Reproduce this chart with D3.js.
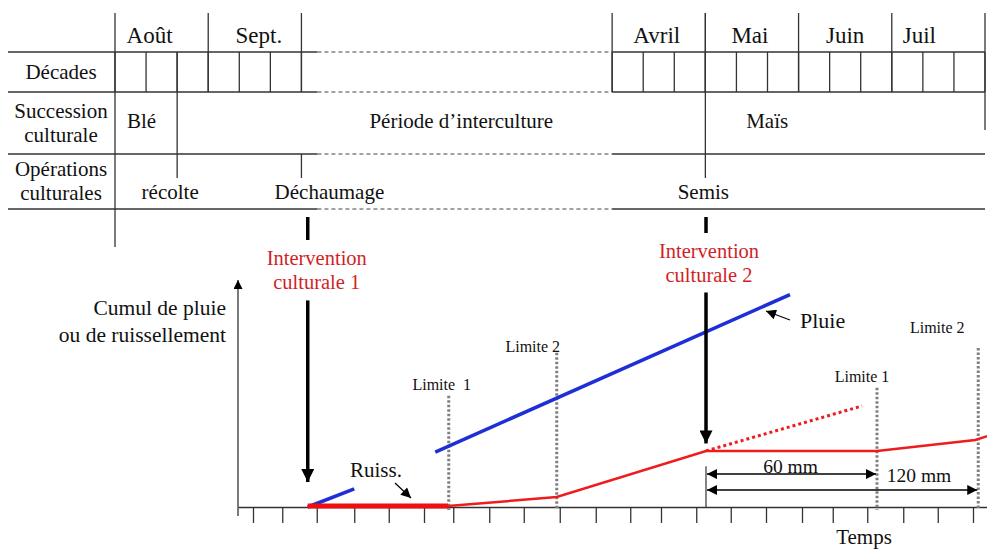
<!DOCTYPE html>
<meta charset="utf-8">
<style>
body, html {
  padding: 0;
  margin: 0;
  background: #fff;
}
svg text {
  font-family: "Liberation Serif", "Times New Roman", serif;
  fill: #111;
}
.grid {
  stroke: #333;
  stroke-width: 1.3px;
  fill: none;
}
.dash {
  stroke: #444;
  stroke-width: 1px;
  stroke-dasharray: 4 3;
}
.limite {
  stroke: #808080;
  stroke-width: 3px;
  stroke-dasharray: 2.5 2;
}
</style>
<body>
<script src="https://d3js.org/d3.v7.min.js"></script>
<script>

var width = 987,
    height = 549

// ---- table (calendar) data, in decades from 1st Aug ----
var months = [
  {label: "Août",  start: 0,  end: 3},
  {label: "Sept.", start: 3,  end: 6},
  {label: "Avril", start: 16, end: 19},
  {label: "Mai",   start: 19, end: 22},
  {label: "Juin",  start: 22, end: 25},
  {label: "Juil",  start: 25, end: 28}
]
var succession = [
  {label: "Blé", start: 0, end: 2},
  {label: "Période d\u2019interculture", start: 2, end: 19},
  {label: "Maïs", start: 19, end: 28}
]
var operations = [
  {label: "récolte", at: 2},
  {label: "Déchaumage", at: 6},
  {label: "Semis", at: 19}
]
var rowLabels = [
  {lines: ["Décades"]},
  {lines: ["Succession", "culturale"]},
  {lines: ["Opérations", "culturales"]}
]

// ---- chart data (time units 0..100, cumulative 0..100) ----
var pluie1 = [[9.3, 0], [15.5, 8]]
var pluie2 = [[26.3, 24.2], [73.6, 93.6]]
var ruissThick = [[9.3, 0.4], [28, 0.4]]
var ruiss = [[28, 0.4], [42.5, 4.4], [62.4, 24.7], [85.2, 24.7], [98.3, 29.5], [100, 31.3]]
var ruissSansInterv = [[62.4, 24.7], [83.2, 44.5]]
var limites = [
  {label: "Limite\u00a0\u00a01", t: 28.1, top: 49},
  {label: "Limite 2",  t: 42.5, top: 68},
  {label: "Limite 1",  t: 85.2, top: 52.5},
  {label: "Limite 2",  t: 98.7, top: 70}
]
var interventions = [
  {lines: ["Intervention", "culturale 1"], t: 9.3, from: 91, to: 11},
  {lines: ["Intervention", "culturale 2"], t: 62.4, from: 94.5, to: 28}
]
var timeTicks = [2, 5.9, 10.5, 15.5, 20.1, 24.8, 28.7, 33.5, 38.1, 42.9, 47.7, 52.3,
                 56.4, 61.1, 65.7, 70.4, 75.2, 79.3, 83.9, 88.7, 93.3, 98]
var spans = [
  {label: "60 mm",  from: 62.4, to: 85.2, y: 14.5},
  {label: "120 mm", from: 62.4, to: 98.7, y: 7.5}
]

var svg = d3.select("body").append("svg")
    .attr("width", width)
    .attr("height", height)

var defs = svg.append("defs")
function marker (id, w, h, orient) {
  defs.append("marker")
      .attr("id", id)
      .attr("viewBox", "0 0 10 10")
      .attr("refX", 10).attr("refY", 5)
      .attr("markerUnits", "userSpaceOnUse")
      .attr("markerWidth", w).attr("markerHeight", h)
      .attr("orient", orient || "auto")
    .append("path")
      .attr("d", "M0,0L10,5L0,10z")
      .attr("fill", "#000")
}
marker("bigHead", 15, 13)
marker("axisHead", 11, 9)
marker("smallHead", 13, 10)
marker("smallHeadStart", 13, 10, "auto-start-reverse")

// ================= TABLE =================
var dx = d3.scaleLinear().domain([0, 28]).range([115, 985])
var rows = {top: 13, month: 52, decade: 92, succ: 154, ops: 209, bottom: 247}
var table = svg.append("g")

// horizontal rules: solid left part, dashed gap, solid right part
;[rows.month, rows.decade, rows.succ, rows.ops].forEach(function (y) {
  table.append("line").attr("class", "grid")
      .attr("x1", 8).attr("x2", dx(6) + 16).attr("y1", y).attr("y2", y)
  table.append("line").attr("class", "dash")
      .attr("x1", dx(6) + 16).attr("x2", dx(16)).attr("y1", y).attr("y2", y)
  table.append("line").attr("class", "grid")
      .attr("x1", dx(16)).attr("x2", dx(28)).attr("y1", y).attr("y2", y)
})

// row label column
table.append("line").attr("class", "grid")
    .attr("x1", dx(0)).attr("x2", dx(0)).attr("y1", rows.top).attr("y2", rows.bottom)

// month borders
var monthEdges = []
months.forEach(function (m) { monthEdges.push(m.start, m.end) })
monthEdges = Array.from(new Set(monthEdges)).filter(function (d) { return d > 0 })
table.selectAll(".mb").data(monthEdges).enter().append("line")
    .attr("class", "grid")
    .attr("x1", dx).attr("x2", dx)
    .attr("y1", rows.top)
    .attr("y2", function (d) { return d === 28 ? 130 : rows.decade })

// decade cells
var decades = d3.range(0, 29).filter(function (d) { return d <= 6 || d >= 16 })
table.selectAll(".dc").data(decades).enter().append("line")
    .attr("class", "grid")
    .attr("x1", dx).attr("x2", dx)
    .attr("y1", rows.month).attr("y2", rows.decade)

var monthShift = {"Août": -12, "Sept.": 4, "Avril": -2, "Mai": -2, "Juin": 0, "Juil": -19}
table.selectAll(".ml").data(months).enter().append("text")
    .attr("x", function (d) { return (dx(d.start) + dx(d.end)) / 2 + monthShift[d.label] })
    .attr("y", 43)
    .attr("text-anchor", "middle")
    .style("font-size", "23px")
    .text(function (d) { return d.label })

// row labels
var rowCenters = [(rows.month + rows.decade) / 2, (rows.decade + rows.succ) / 2, (rows.succ + rows.ops) / 2]
rowLabels.forEach(function (r, i) {
  var t = table.append("text")
      .attr("x", 61)
      .attr("text-anchor", "middle")
      .style("font-size", "21px")
  r.lines.forEach(function (l, j) {
    t.append("tspan")
        .attr("x", 61)
        .attr("y", rowCenters[i] + 7 + (j - (r.lines.length - 1) / 2) * 24 - (i === 2 ? 1 : 0))
        .text(l)
  })
})

// succession
table.selectAll(".sl").data(succession).enter().append("text")
    .attr("x", function (d) { return d.label === "Blé" ? dx(d.start) + 12 : (dx(d.start) + dx(d.end)) / 2 + (d.label === "Maïs" ? -78 : 20) })
    .attr("y", 128)
    .attr("text-anchor", function (d) { return d.label === "Blé" ? "start" : "middle" })
    .style("font-size", "21px")
    .text(function (d) { return d.label })

// operation markers (vertical lines crossing into ops row)
table.selectAll(".ol").data(operations).enter().append("line")
    .attr("class", "grid")
    .attr("x1", function (d) { return dx(d.at) }).attr("x2", function (d) { return dx(d.at) })
    .attr("y1", function (d) { return d.at === 6 ? rows.succ : (d.at === 2 ? rows.month : rows.top) })
    .attr("y2", 178)
table.selectAll(".ot").data(operations).enter().append("text")
    .attr("x", function (d) { return dx(d.at) + (d.at === 2 ? -7 : d.at === 6 ? 28 : -2) })
    .attr("y", 199)
    .attr("text-anchor", "middle")
    .style("font-size", "21px")
    .text(function (d) { return d.label })

// ================= CHART =================
var x = d3.scaleLinear().domain([0, 100]).range([238, 988])
var y = d3.scaleLinear().domain([0, 100]).range([507, 280])
var line = d3.line().x(function (d) { return x(d[0]) }).y(function (d) { return y(d[1]) })

var chart = svg.append("g")

// x axis
chart.append("g")
    .attr("transform", "translate(0," + y(0) + ")")
    .call(d3.axisBottom(x).tickValues(timeTicks).tickSize(16).tickSizeOuter(0).tickFormat(""))
    .call(function (g) {
      g.select(".domain").attr("stroke", "#333").attr("stroke-width", 1.3)
      g.selectAll(".tick line").attr("stroke", "#333").attr("stroke-width", 1.3)
    })

// y axis with arrow
chart.append("line")
    .attr("x1", x(0)).attr("x2", x(0))
    .attr("y1", y(0) + 9).attr("y2", y(100))
    .attr("stroke", "#333").attr("stroke-width", 1.3)
    .attr("marker-end", "url(#axisHead)")

chart.append("text")
    .attr("text-anchor", "end")
    .style("font-size", "21.5px")
    .selectAll("tspan").data(["Cumul de pluie", "ou de ruissellement"]).enter().append("tspan")
    .attr("x", 226)
    .attr("y", function (d, i) { return 315 + i * 27 })
    .text(function (d) { return d })

chart.append("text")
    .attr("x", 864).attr("y", 544)
    .attr("text-anchor", "middle")
    .style("font-size", "21px")
    .text("Temps")

// limit lines
chart.selectAll(".limite").data(limites).enter().append("line")
    .attr("class", "limite")
    .attr("x1", function (d) { return x(d.t) }).attr("x2", function (d) { return x(d.t) })
    .attr("y1", function (d) { return y(d.top) }).attr("y2", y(0) + 3)
chart.selectAll(".ll").data(limites).enter().append("text")
    .attr("x", function (d, i) { return x(d.t) + [-7, -24, -15, -41][i] })
    .attr("y", function (d, i) { return y(d.top) + [-6, -1, -6, -15][i] })
    .attr("text-anchor", "middle")
    .style("font-size", "16px")
    .text(function (d) { return d.label })

// rain
chart.selectAll(".pluie").data([pluie1, pluie2]).enter().append("path")
    .attr("d", line)
    .attr("fill", "none").attr("stroke", "#1f2fd6").attr("stroke-width", 3.5)

// runoff
chart.append("path").attr("d", line(ruissSansInterv))
    .attr("fill", "none").attr("stroke", "#ee1c1c").attr("stroke-width", 3)
    .attr("stroke-dasharray", "3 3")
chart.append("path").attr("d", line(ruiss))
    .attr("fill", "none").attr("stroke", "#ee1c1c").attr("stroke-width", 2.5)
chart.append("path").attr("d", line(ruissThick))
    .attr("fill", "none").attr("stroke", "#ee1010").attr("stroke-width", 5)

// interventions
interventions.forEach(function (d, i) {
  chart.append("line")
      .attr("x1", x(d.t)).attr("x2", x(d.t))
      .attr("y1", y(d.from)).attr("y2", y(d.to))
      .attr("stroke", "#000").attr("stroke-width", 3.5)
      .attr("marker-end", "url(#bigHead)")
  chart.append("line")
      .attr("x1", x(d.t)).attr("x2", x(d.t))
      .attr("y1", 217).attr("y2", i === 0 ? 240 : 233)
      .attr("stroke", "#000").attr("stroke-width", 3.5)
  var t = chart.append("text")
      .attr("text-anchor", "middle")
      .style("font-size", "20.5px")
  d.lines.forEach(function (l, j) {
    t.append("tspan")
        .attr("x", x(d.t) + (i === 0 ? 9 : 3))
        .attr("y", (i === 0 ? 265 : 258) + j * 24)
        .style("fill", "#d11f26")
        .text(l)
  })
})

// annotations
chart.append("text").attr("x", 350).attr("y", 477).style("font-size", "21px").text("Ruiss.")
chart.append("line")
    .attr("x1", 395).attr("y1", 483).attr("x2", 411).attr("y2", 498)
    .attr("stroke", "#000").attr("stroke-width", 1.2)
    .attr("marker-end", "url(#smallHead)")
chart.append("text").attr("x", 800).attr("y", 328).style("font-size", "22px").text("Pluie")
chart.append("line")
    .attr("x1", 790).attr("y1", 320).attr("x2", 766).attr("y2", 311)
    .attr("stroke", "#000").attr("stroke-width", 1.2)
    .attr("marker-end", "url(#smallHead)")

// 60 / 120 mm spans
chart.append("line")
    .attr("x1", x(62.4)).attr("x2", x(62.4))
    .attr("y1", y(18)).attr("y2", y(0))
    .attr("stroke", "#333").attr("stroke-width", 1.2)
chart.selectAll(".span").data(spans).enter().append("line")
    .attr("x1", function (d) { return x(d.from) + 1 }).attr("x2", function (d) { return x(d.to) - 1 })
    .attr("y1", function (d) { return y(d.y) }).attr("y2", function (d) { return y(d.y) })
    .attr("stroke", "#000").attr("stroke-width", 1.5)
    .attr("marker-start", "url(#smallHeadStart)")
    .attr("marker-end", "url(#smallHead)")
chart.selectAll(".st").data(spans).enter().append("text")
    .attr("x", function (d, i) { return i === 0 ? (x(d.from) + x(d.to)) / 2 - 1 : x(85.2) + 42 })
    .attr("y", function (d, i) { return i === 0 ? y(d.y) - 1 : y(d.y) - 8 })
    .attr("text-anchor", "middle")
    .style("font-size", "19.5px")
    .text(function (d) { return d.label })

</script>
</body>
